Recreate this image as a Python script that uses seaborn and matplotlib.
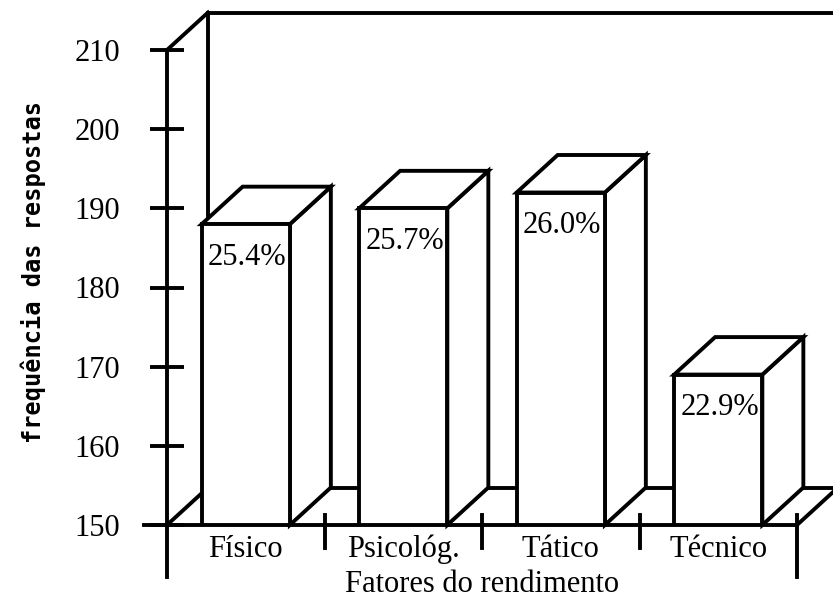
# -*- coding: utf-8 -*-
"""
plot.py -- grafico de barras "3D" (frequencia das respostas por fator do rendimento)
"""

import numpy as np
import pandas as pd
import matplotlib
matplotlib.use("Agg")
import matplotlib.pyplot as plt
from matplotlib.patches import Polygon
import seaborn as sns

# =============================================================================
# DADOS
# =============================================================================

CATEGORIES = ["Físico", "Psicológ.", "Tático", "Técnico"]
FREQ = [188, 190, 192, 169]
PCT_LABELS = ["25.4%", "25.7%", "26.0%", "22.9%"]
Y_TICKS = [150, 160, 170, 180, 190, 200, 210]

X_LABEL = "Fatores do rendimento"
Y_LABEL = "frequência das respostas"

# =============================================================================
# ESTILO
# =============================================================================

W_PX, H_PX, DPI = 833, 605, 100
LW = 2.8                      # espessura das linhas (pt)
SERIF = ["Liberation Serif", "DejaVu Serif"]
FS = 22

sns.set_theme(style="white")
plt.rcParams["font.family"] = SERIF

fig = plt.figure(figsize=(W_PX / DPI, H_PX / DPI), dpi=DPI, facecolor="white")
# area da frente do "cubo" em pixels: x 167..797, y 50..525 (a partir do topo)
ax = fig.add_axes([167 / W_PX, (H_PX - 525) / H_PX, 630 / W_PX, 475 / H_PX])
ax.set_facecolor("none")

df = pd.DataFrame({"fator": CATEGORIES, "freq": FREQ})
sns.barplot(data=df, x="fator", y="freq", color="white", saturation=1,
            edgecolor="black", linewidth=LW, width=0.56, ax=ax, zorder=5)

ax.set_xlim(-0.5, len(CATEGORIES) - 0.5)
ax.set_ylim(Y_TICKS[0], Y_TICKS[-1])

# conversao pixel -> unidades de dados
px_x = 630 / (len(CATEGORIES))           # px por categoria
px_y = 475 / (Y_TICKS[-1] - Y_TICKS[0])  # px por unidade
DX = 41 / px_x                           # profundidade
DY = 37.5 / px_y

x0, x1 = -0.5, len(CATEGORIES) - 0.5
y0, y1 = Y_TICKS[0], Y_TICKS[-1]

line_kw = dict(color="black", lw=LW, clip_on=False, solid_capstyle="projecting")

# ─── moldura (parede do fundo e chao) ──────────────────────────────
ax.plot([x0, x0 + DX], [y1, y1 + DY], zorder=1, **line_kw)
ax.plot([x0 + DX, x1 + DX], [y1 + DY, y1 + DY], zorder=1, **line_kw)
ax.plot([x0 + DX, x0 + DX], [y0 + DY, y1 + DY], zorder=1, **line_kw)
ax.plot([x0 + DX, x1 + DX], [y0 + DY, y0 + DY], zorder=1, **line_kw)
ax.plot([x0, x0 + DX], [y0, y0 + DY], zorder=1, **line_kw)
ax.plot([x1, x1 + DX], [y0, y0 + DY], zorder=1, **line_kw)

# eixo y (prolongado para baixo) e linha de base
ax.plot([x0, x0], [y0 - 52 / px_y, y1], zorder=6, **line_kw)
ax.plot([x0 - 23 / px_x, x1], [y0, y0], zorder=6, **line_kw)

# separadores entre categorias
for i in range(len(CATEGORIES)):
    xs = i + 0.5
    low = y0 - (52 if i == len(CATEGORIES) - 1 else 23) / px_y
    ax.plot([xs, xs], [low, y0 + 10 / px_y], zorder=6, **line_kw)

# ─── faces laterais e superiores das barras ────────────────────────
for bar, lbl in zip(ax.patches, PCT_LABELS):
    bx, bw, bh = bar.get_x(), bar.get_width(), bar.get_height()
    side = [(bx + bw, y0), (bx + bw, bh), (bx + bw + DX, bh + DY), (bx + bw + DX, y0 + DY)]
    top = [(bx, bh), (bx + bw, bh), (bx + bw + DX, bh + DY), (bx + DX, bh + DY)]
    for pts in (side, top):
        ax.add_patch(Polygon(pts, closed=True, facecolor="white", edgecolor="black",
                             lw=LW, joinstyle="miter", clip_on=False, zorder=4))
    ax.annotate(lbl, xy=(bx, bh), xytext=(4.5, -24), textcoords="offset points",
                ha="left", va="center", fontsize=FS, color="black", zorder=7)

# ─── eixos / rotulos ──────────────────────────────────────────────
for sp in ax.spines.values():
    sp.set_visible(False)
ax.set_yticks(Y_TICKS)
ax.set_yticklabels([str(t) for t in Y_TICKS], fontsize=FS)
ax.tick_params(axis="y", left=True, direction="inout", length=24, width=LW, pad=22,
               colors="black")
ax.tick_params(axis="x", bottom=True, length=0, pad=7, labelsize=FS, colors="black")
ax.set_xlabel(X_LABEL, fontsize=FS, color="black", labelpad=4)
ax.set_ylabel(Y_LABEL, fontsize=17, color="black", fontweight="bold",
              family=["DejaVu Sans Mono", "DejaVu Sans"], va="center")
ax.yaxis.set_label_coords(-0.212, 0.533)

fig.savefig("out.png", dpi=DPI, facecolor="white")
